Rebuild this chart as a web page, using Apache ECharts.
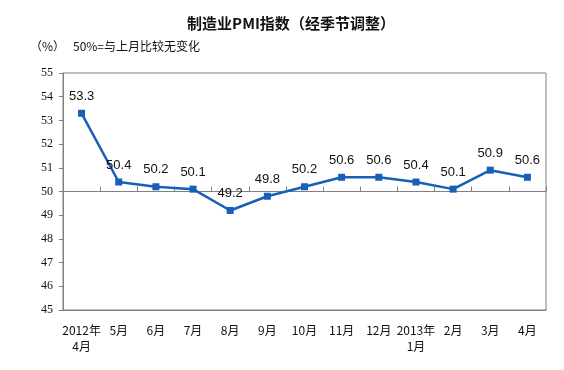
<!DOCTYPE html>
<html><head><meta charset="utf-8">
<script src="https://cdn.jsdelivr.net/npm/echarts@6/dist/echarts.min.js"></script>
<style>html,body{margin:0;padding:0;background:#fff}#c{width:564px;height:370px}</style>
</head><body><div id="c"></div>
<script>
const categories = ['2012年\n4月','5月','6月','7月','8月','9月','10月','11月','12月','2013年\n1月','2月','3月','4月'];
const pmiValues = [53.3, 50.4, 50.2, 50.1, 49.2, 49.8, 50.2, 50.6, 50.6, 50.4, 50.1, 50.9, 50.6];
const yMin = 45, yMax = 55, yStep = 1;
const titleText = '制造业PMI指数（经季节调整）';
const unitText = '（%）';
const noteText = '50%=与上月比较无变化';

const chart = echarts.init(document.getElementById('c'), null, {renderer:'canvas'});
const gridTop = 73, gridBottom = 60;
const plotH = 370 - gridTop - gridBottom;
const fiftyOffset = -plotH * (50 - yMin) / (yMax - yMin);
chart.setOption({
  animation: false,
  backgroundColor: '#fff',
  title: {text: titleText, left: 286, top: 11, textAlign: 'center',
    textStyle: {fontSize: 15, fontWeight: 'bold', color: '#111', fontFamily: 'Noto Sans CJK SC'}},
  graphic: [
    {type:'text', left: 30, top: 40, style:{text: unitText, fontSize: 12, fill:'#111', fontFamily:'Noto Sans CJK SC'}},
    {type:'text', left: 73, top: 40, style:{text: noteText, fontSize: 12, fill:'#111', fontFamily:'Noto Sans CJK SC'}}
  ],
  grid: {left: 63, right: 18, top: gridTop, bottom: gridBottom, show: true, borderColor: '#808080', borderWidth: 1},
  xAxis: [{
    type: 'category', data: categories, boundaryGap: true, position: 'bottom',
    axisLine: {show: true, lineStyle: {color: '#808080'}},
    axisTick: {show: false},
    axisLabel: {interval: 0, color: '#111', fontSize: 12, margin: 12, lineHeight: 16, fontFamily: 'Noto Sans CJK SC'}
  }, {
    type: 'category', data: categories, boundaryGap: true, position: 'bottom', offset: fiftyOffset,
    axisLine: {show: true, lineStyle: {color: '#808080'}},
    axisTick: {show: true, inside: true, length: 5, interval: 0, lineStyle: {color: '#808080'}},
    axisLabel: {show: false}
  }],
  yAxis: {
    type: 'value', min: yMin, max: yMax, interval: yStep,
    axisLine: {show: true, lineStyle: {color: '#808080'}},
    axisTick: {show: true, length: 4, lineStyle: {color: '#808080'}},
    axisLabel: {color: '#111', fontSize: 12, margin: 10, fontFamily: 'Liberation Serif'},
    splitLine: {show: false}
  },
  series: [{
    type: 'line', data: pmiValues, xAxisIndex: 0,
    symbol: 'rect', symbolSize: 7,
    lineStyle: {color: '#1660b8', width: 2.5},
    itemStyle: {color: '#1660b8'},
    label: {show: true, position: 'top', distance: 7, color: '#111', fontSize: 13, fontFamily: 'Liberation Sans',
      formatter: p => p.value.toFixed(1)}
  }]
});
</script></body></html>
